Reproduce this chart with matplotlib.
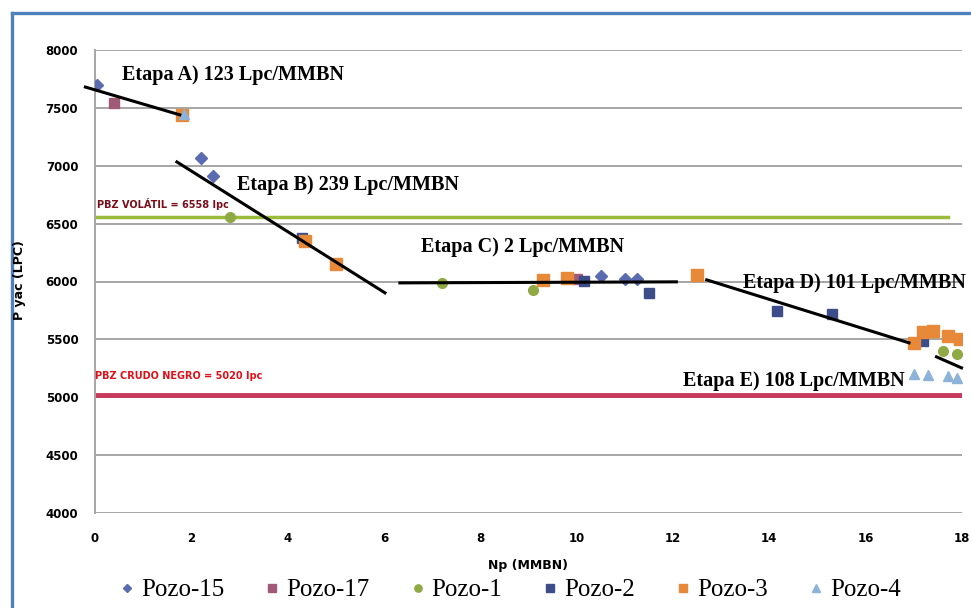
import matplotlib
matplotlib.use("Agg")
import matplotlib.pyplot as plt
from matplotlib.lines import Line2D

# series (Np in MMBN, pressure in lpc)
p15_x = [0.05, 2.2, 2.45, 10.5, 11.0, 11.25]
p15_y = [7700, 7070, 6910, 6050, 6025, 6020]
p17_x = [0.4, 10.0]
p17_y = [7545, 6020]
p1_x = [2.8, 7.2, 9.1, 17.6, 17.9]
p1_y = [6560, 5990, 5925, 5400, 5370]
p2_x = [4.3, 10.15, 11.5, 14.15, 15.3, 17.2]
p2_y = [6380, 6005, 5900, 5745, 5715, 5490]
p3_x = [1.8, 4.35, 5.0, 9.3, 9.8, 12.5, 17.0, 17.2, 17.4, 17.7, 17.95]
p3_y = [7440, 6350, 6150, 6010, 6030, 6060, 5470, 5560, 5570, 5530, 5500]
p4_x = [1.85, 17.0, 17.3, 17.7, 17.9]
p4_y = [7450, 5200, 5195, 5185, 5170]

series_names = ["Pozo-15", "Pozo-17", "Pozo-1", "Pozo-2", "Pozo-3", "Pozo-4"]

# trend lines per stage: (x0, x1), (y0, y1)
stage_x = [(-0.2, 1.76), (1.7, 6.02), (6.33, 12.07), (12.7, 16.9), (17.47, 17.99)]
stage_y = [(7680, 7440), (7033, 5902), (5988, 5997), (6014, 5470), (5349, 5254)]
stage_labels = ["Etapa A) 123 Lpc/MMBN", "Etapa B) 239 Lpc/MMBN", "Etapa C) 2 Lpc/MMBN",
                "Etapa D) 101 Lpc/MMBN", "Etapa E) 108 Lpc/MMBN"]
stage_label_xy = [(0.56, 7784), (2.95, 6834), (6.76, 6299), (13.45, 5988), (12.2, 5142)]

p_volatil = 6558
p_negro = 5020

fig = plt.figure(figsize=(9.71, 6.08), dpi=100)
ax = fig.add_axes([95 / 971, 1 - 513 / 608, 867 / 971, 463 / 608])

# blue frame round the picture
fig.add_artist(Line2D([11.5 / 971, 11.5 / 971], [0, 1 - 12.5 / 608], color="#4f81bd", lw=2.4))
fig.add_artist(Line2D([11.5 / 971, 1], [1 - 12.5 / 608, 1 - 12.5 / 608], color="#4f81bd", lw=2.4))

ax.set_xlim(0, 18)
ax.set_ylim(4000, 8000)
ax.set_yticks(range(4000, 8001, 500))
ax.set_xticks(range(0, 19, 2))
ax.grid(axis="y", color="#a6a6a6", lw=1.4)
ax.set_axisbelow(True)
for s in ["top", "right", "bottom"]:
    ax.spines[s].set_visible(False)
ax.spines["left"].set_color("#a6a6a6")
ax.spines["left"].set_linewidth(1.4)
ax.tick_params(length=0, labelsize=8.5)
ax.tick_params(axis="y", pad=12)
ax.tick_params(axis="x", pad=14)
for lab in ax.get_xticklabels() + ax.get_yticklabels():
    lab.set_fontweight("heavy")

# limits
ax.plot([0, 17.7], [p_volatil, p_volatil], color="#9bbb3c", lw=2.5, zorder=2)
ax.plot([0, 18], [p_negro, p_negro], color="#c8385a", lw=3.5, zorder=2)
ax.text(0.04, 6670, "PBZ VOLÁTIL = 6558 lpc", color="#7a0f1a", fontsize=7,
        fontweight="heavy", va="center")
ax.text(0.0, 5185, "PBZ CRUDO NEGRO = 5020 lpc", color="#e0101a", fontsize=7,
        fontweight="heavy", va="center")

ms = 7
ax.plot(p15_x, p15_y, "D", color="#5b6bb0", ms=ms - 1, ls="none", label=series_names[0], zorder=3)
ax.plot(p17_x, p17_y, "s", color="#a05a78", ms=ms, ls="none", label=series_names[1], zorder=3)
ax.plot(p1_x, p1_y, "o", color="#8faa45", ms=ms, ls="none", label=series_names[2], zorder=3)
ax.plot(p2_x, p2_y, "s", color="#3d4d8a", ms=ms, ls="none", label=series_names[3], zorder=3)
ax.plot(p3_x, p3_y, "s", color="#e8893a", ms=ms + 1, ls="none", label=series_names[4], zorder=3)
ax.plot(p4_x, p4_y, "^", color="#8db3d9", ms=ms, ls="none", label=series_names[5], zorder=3)

for (xs, ys) in zip(stage_x, stage_y):
    ax.plot(xs, ys, color="black", lw=2.2, zorder=4, clip_on=False)

for lab, (tx, ty) in zip(stage_labels, stage_label_xy):
    ax.text(tx, ty, lab, fontsize=14.5, fontweight="bold", family="Liberation Serif",
            va="center", ha="left", zorder=5)

fig.text(20 / 971, 1 - 280 / 608, "P yac (LPC)", rotation=90, ha="center", va="center",
         fontsize=9, fontweight="heavy")
fig.text(528 / 971, 1 - 565 / 608, "Np (MMBN)", ha="center", va="center",
         fontsize=9, fontweight="heavy")

fig.legend(loc="center", bbox_to_anchor=(510 / 971, 1 - 590 / 608), ncol=6, frameon=False,
           prop={"family": "Liberation Serif", "size": 18}, handlelength=0.6,
           handletextpad=0.26, columnspacing=1.62, markerscale=0.75)

fig.savefig("out.png", dpi=100, facecolor="white")
